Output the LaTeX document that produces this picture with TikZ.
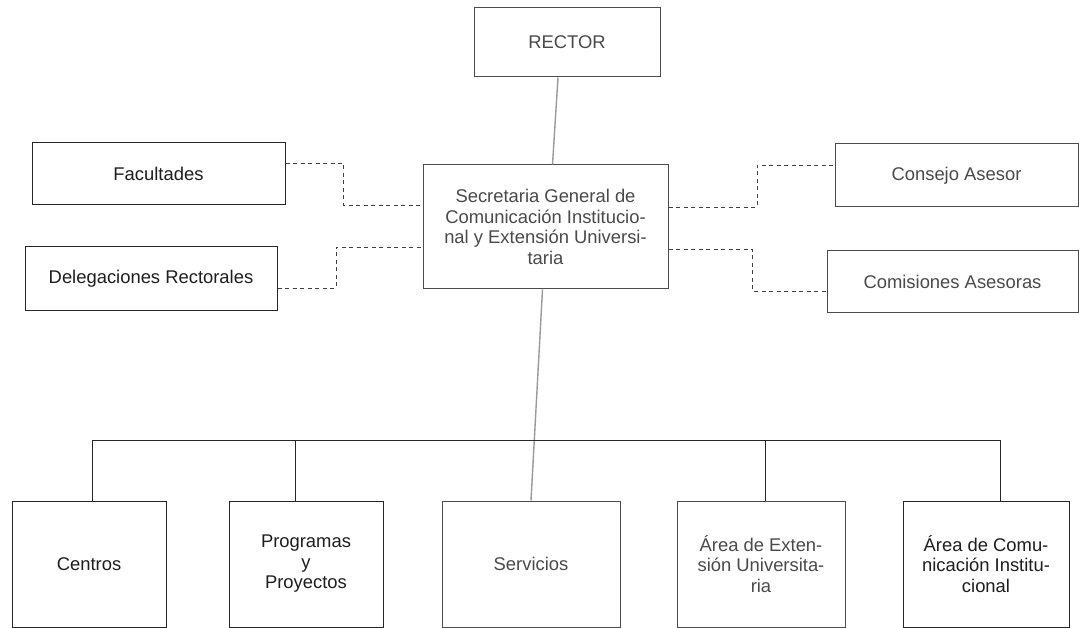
\documentclass[tikz,border=0pt]{standalone}
\usepackage{fontspec}
\setmainfont{Liberation Sans}
\definecolor{txtdark}{HTML}{1E1E1E}
\definecolor{txtgray}{HTML}{4A4A4A}
\definecolor{linegray}{HTML}{9A9A9A}
\tikzset{
  box/.style={draw=black!85, line width=1pt, inner sep=0pt, align=center,
    font=\fontsize{18.4}{20.5}\selectfont, text=txtdark},
  softbox/.style={box, text=txtgray, draw=black!70},
  conn/.style={draw=black!85, line width=0.9pt},
  softconn/.style={draw=linegray, line width=1.4pt},
  dashconn/.style={draw=black!75, line width=0.9pt, dash pattern=on 4pt off 3.5pt},
}
\begin{document}
\begin{tikzpicture}[x=1pt,y=-1pt]
\useasboundingbox[fill=white] (0,0) rectangle (1079,628);

% top
\node[softbox, minimum width=186pt, minimum height=69pt] (rector) at (567,42.5) {RECTOR};
\node[softbox, minimum width=245pt, minimum height=124pt] (secr) at (545.5,227)
  {Secretaria General de\\Comunicación Institucio-\\nal y Extensión Universi-\\taria};

% side boxes
\node[box, minimum width=253pt, minimum height=62pt] (fac) at (158.5,174) {Facultades};
\node[box, minimum width=252pt, minimum height=64pt] (del) at (151,279) {Delegaciones Rectorales};
\node[softbox, minimum width=243pt, minimum height=63pt] (cons) at (956.5,175.5) {Consejo Asesor};
\node[softbox, minimum width=251pt, minimum height=62pt] (comi) at (952.5,282) {Comisiones Asesoras};

% bottom boxes
\node[box, minimum width=154pt, minimum height=126pt] (centros) at (89,564) {Centros};
\node[box, minimum width=154pt, minimum height=126pt] (prog) at (306,564) {Programas\\y\\Proyectos};
\node[softbox, minimum width=178pt, minimum height=126pt] (serv) at (531,564) {Servicios};
\node[softbox, minimum width=168pt, minimum height=126pt] (ext) at (761,564) {Área de Exten-\\sión Universita-\\ria};
\node[box, minimum width=166pt, minimum height=126pt] (comu) at (986,564) {Área de Comu-\\nicación Institu-\\cional};

% vertical trunk
\draw[softconn] ([xshift=-9pt]rector.south) -- ([xshift=7pt]secr.north);
\draw[softconn] ([xshift=-3pt]secr.south) -- (serv.north);

% bus
\coordinate (b1) at (92,440);
\coordinate (b2) at (295,440);
\coordinate (b4) at (765,440);
\coordinate (b5) at (1000,440);
\draw[conn] (b1 |- centros.north) -- (b1) -- (b5) -- (b5 |- comu.north);
\draw[conn] (b2) -- (b2 |- prog.north);
\draw[conn] (b4) -- (b4 |- ext.north);

% dashed links left
\coordinate (f1) at (343,163);
\coordinate (f2) at (343,205);
\draw[dashconn] (fac.east |- f1) -- (f1) -- (f2) -- (secr.west |- f2);
\coordinate (d1) at (336,288);
\coordinate (d2) at (336,247);
\draw[dashconn] (del.east |- d1) -- (d1) -- (d2) -- (secr.west |- d2);

% dashed links right
\coordinate (c1) at (757,207);
\coordinate (c2) at (757,165);
\draw[dashconn] (secr.east |- c1) -- (c1) -- (c2) -- (cons.west |- c2);
\coordinate (m1) at (752,249);
\coordinate (m2) at (752,291);
\draw[dashconn] (secr.east |- m1) -- (m1) -- (m2) -- (comi.west |- m2);
\end{tikzpicture}
\end{document}
